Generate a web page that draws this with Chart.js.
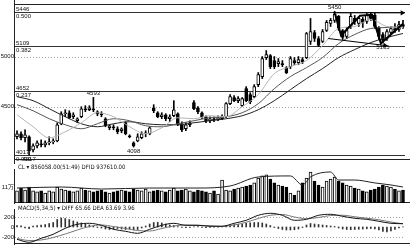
<!DOCTYPE html>
<html>
<head>
<meta charset="utf-8">
<script src="https://cdn.jsdelivr.net/npm/chart.js@4.4.0/dist/chart.umd.min.js"></script>
<style>
html, body { margin: 0; padding: 0; background: #fff; }
#wrap { position: relative; width: 410px; height: 245px; overflow: hidden; }
canvas { position: absolute; left: 0; }
.hd { position: absolute; left: 18px; font: 6px "DejaVu Sans Condensed", "Liberation Sans Narrow", Arial, sans-serif; color: #111; white-space: nowrap; line-height: 6px; }
</style>
</head>
<body>
<div id="wrap">
  <canvas id="main" width="410" height="164" style="top:0"></canvas>
  <div class="hd" style="top:164px">CL ▾ 856058.00(51:49) DFID 937610.00</div>
  <canvas id="vol" width="410" height="35" style="top:169px"></canvas>
  <div class="hd" style="top:205px">MACD(5,34,5) ▾ DIFF 65.66 DEA 63.69 3.96</div>
  <canvas id="macd" width="410" height="36" style="top:209px"></canvas>
</div>
<script>
// daily candles
const opens  = [4200,4230,4190,4200,4070,4110,4130,4120,4140,4150, 4160,4330,4430,4440,4400,4360,4400,4480,4470,4480,
                4450,4430,4380,4290,4300,4280,4260,4340,4210,4140, 4160,4190,4230,4230,4490,4440,4400,4420,4380,4410,
                4430,4330,4280,4320,4540,4490,4440,4400,4360,4380, 4370,4380,4400,4530,4590,4560,4510,4680,4620,4600,
                4720,4800,4990,5010,4960,4930,4930,4890,4900,4960, 4940,4970,4990,5150,5240,5180,5150,5260,5330,5360,
                5400,5260,5200,5300,5380,5330,5370,5350,5400,5410, 5290,5220,5180,5240,5280,5270,5320];
const closes = [4230,4190,4220,4060,4110,4140,4120,4140,4150,4160, 4320,4430,4440,4390,4420,4380,4480,4470,4490,4470,
                4430,4420,4310,4310,4290,4250,4280,4230,4200,4110, 4200,4230,4240,4290,4460,4400,4420,4380,4400,4470,
                4330,4270,4320,4340,4480,4450,4400,4360,4380,4370, 4390,4400,4530,4600,4560,4580,4580,4560,4550,4700,
                4820,4980,5020,4900,4900,4950,4920,4840,4980,4940, 4970,4950,5230,5250,5180,5110,5250,5340,5360,5420,
                5280,5190,5260,5400,5350,5380,5340,5410,5380,5300, 5200,5160,5250,5280,5260,5320,5300];
const highs  = [4260,4250,4270,4210,4130,4160,4170,4160,4200,4180, 4340,4450,4470,4460,4440,4390,4500,4510,4510,4593,
                4460,4450,4390,4320,4320,4300,4290,4350,4220,4150, 4230,4250,4260,4300,4520,4450,4440,4430,4420,4560,
                4440,4350,4340,4360,4560,4500,4450,4410,4400,4400, 4410,4420,4540,4620,4610,4600,4590,4700,4640,4720,
                4840,5000,5060,5020,5000,4980,4960,4900,5000,4990, 5000,4990,5240,5380,5260,5200,5270,5360,5380,5450,
                5410,5270,5290,5430,5410,5400,5390,5430,5440,5430, 5300,5240,5270,5300,5330,5350,5360];
const lows   = [4180,4170,4150,4017,4050,4090,4100,4100,4120,4130, 4150,4320,4400,4380,4380,4340,4390,4450,4460,4450,
                4410,4400,4300,4270,4270,4230,4240,4220,4190,4098, 4150,4180,4200,4220,4440,4390,4380,4360,4350,4400,
                4310,4250,4260,4300,4470,4430,4380,4340,4340,4350, 4360,4370,4390,4520,4550,4540,4500,4550,4530,4590,
                4700,4780,4970,4880,4880,4900,4900,4830,4880,4920, 4920,4930,4980,5120,5150,5100,5140,5250,5300,5340,
                5260,5170,5180,5280,5320,5300,5290,5330,5360,5280, 5170,5135,5160,5220,5240,5250,5280];

// moving averages, sampled every 4 days
const maIdx = [0,4,8,12,16,20,24,28,32,36,40,44,48,52,56,60,64,68,72,76,80,84,88,92,96];
const ma1 = [4420,4300,4190,4250,4340,4440,4400,4300,4230,4290,4390,4380,4410,4400,4500,4620,4830,4900,4960,5110,5280,5300,5370,5300,5290];
const ma2 = [4520,4460,4380,4320,4280,4330,4380,4360,4310,4300,4330,4360,4390,4400,4440,4530,4680,4800,4890,4990,5130,5220,5280,5290,5300];
const ma3 = [4600,4560,4480,4400,4330,4300,4330,4350,4330,4320,4320,4340,4360,4380,4410,4470,4560,4670,4780,4880,4990,5070,5140,5190,5230];

// fibonacci levels and marked extremes
const fibPrices = [5446, 5109, 4652, 4017];
const fibRatios = ['0.500', '0.382', '0.237', '0.000'];
const markIdx  = [79, 19, 29, 91, 3];
const markText = ['5450', '4593', '4098', '5135', '4017'];
const markHigh = [true, true, false, false, false];

// drawn pattern lines (day index, price)
const arrowTop = [{x: 78.6, y: 5436}, {x: 95.8, y: 5436}];
const arrowLow = [{x: 77.4, y: 5180}, {x: 91.5, y: 5111}];
const zigzag   = [{x: 79.1, y: 5426}, {x: 80.6, y: 5210}, {x: 85.3, y: 5407}, {x: 88.3, y: 5416}, {x: 90.5, y: 5131}, {x: 96, y: 5328}];

// volume (万)
const volumes = [8.3,10.3,8.9,11.0,8.3,7.6,8.3,6.9,8.3,7.6, 11.0,9.6,8.9,8.3,7.6,8.3,10.3,8.9,8.3,7.6,
                 8.3,8.9,7.6,6.9,7.6,8.3,8.9,8.3,7.6,9.6, 8.9,8.3,9.6,7.6,8.3,8.9,8.3,7.6,8.9,10.3,
                 8.3,8.9,9.6,8.3,7.6,8.9,8.3,7.6,6.9,8.3, 6.2,15.8,8.9,8.3,9.6,10.3,11.0,11.7,12.4,13.8,
                 17.2,18.6,19.3,16.5,13.8,12.4,11.7,11.0,6.9,5.5, 8.3,13.8,17.2,21.3,15.1,12.4,11.0,15.1,16.5,17.9,
                 15.1,13.8,12.4,11.7,10.3,9.6,8.3,7.6,8.9,9.6, 11.0,12.4,11.7,11.0,9.6,8.3,8.9];
const volMaIdx = [0,11,21,33,45,53,60,68,71,73,78,80,84,89,93,96];
const volMa    = [10.3,11.0,9.6,10.3,10.3,11.7,17.9,18.6,12.4,17.9,21.3,15.8,15.8,13.8,12.4,11.0];

// MACD
const macdIdx = [0,3,6,9,12,15,18,21,24,27,30,33,36,39,42,45,48,51,54,57,60,63,66,69,72,75,78,81,84,87,90,93,96];
const diff = [-246,-306,-226,-146,-26,54,74,34,-46,-86,-126,-46,34,74,34,34,14,14,74,134,234,274,234,134,154,234,254,214,174,154,114,74,66];
const dea  = [-230,-270,-260,-210,-140,-60,10,40,10,-30,-70,-80,-30,20,40,35,25,15,40,95,170,235,250,200,165,190,230,235,205,175,145,100,64];
const macdHist = [30,25,-20,-35,20,30,40,50,70,90, 150,180,170,150,120,100,80,60,40,20,
                  -10,-20,-40,-50,-40,-30,-40,-50,-40,-60, -50,-20,20,60,90,95,80,60,40,30,
                  10,-10,-15,-10,5,10,-10,-15,-10,-5, -5,10,30,40,50,55,60,75,85,90,
                  90,80,60,30,-10,-30,-50,-60,-60,-55, -40,-10,40,70,60,50,40,30,20,10,
                  -20,-40,-50,-55,-50,-45,-40,-35,-30,-40, -60,-90,-100,-80,-50,-20,4];

const days = opens.map((_, i) => i);
const upColor = days.map(i => closes[i] >= opens[i] ? '#fff' : '#000');
const pts = (xs, ys) => xs.map((x, k) => ({x: x, y: ys[k]}));

Chart.defaults.font.family = 'Arial, "Liberation Sans", sans-serif';
Chart.defaults.font.size = 6;

const xScale = {type: 'linear', min: -0.5, max: 96.5, offset: false, display: false};

function framePlugin(tickVals, tickText, dotted, borders) {
    return {
        id: 'frame',
        beforeDatasetsDraw(chart) {
            const {ctx, chartArea: a, scales: {y}} = chart;
            ctx.save();
            ctx.lineWidth = 1;
            ctx.strokeStyle = '#a0a0a0';
            ctx.setLineDash([1, 2]);
            dotted.forEach(v => {
                const py = Math.round(y.getPixelForValue(v)) + 0.5;
                ctx.beginPath(); ctx.moveTo(a.left, py); ctx.lineTo(a.right, py); ctx.stroke();
            });
            ctx.setLineDash([]);
            ctx.strokeStyle = '#222';
            ctx.beginPath(); ctx.moveTo(a.left - 0.5, 0); ctx.lineTo(a.left - 0.5, chart.height); ctx.stroke();
            borders.forEach(b => {
                const py = Math.round(a[b]) + (b === 'top' ? 0.5 : -0.5);
                ctx.beginPath(); ctx.moveTo(a.left, py); ctx.lineTo(chart.width, py); ctx.stroke();
            });
            ctx.fillStyle = '#111';
            ctx.font = '6px Arial, "Liberation Sans", sans-serif';
            ctx.textAlign = 'right';
            ctx.textBaseline = 'middle';
            tickVals.forEach((v, k) => ctx.fillText(tickText[k], a.left - 1, y.getPixelForValue(v)));
            ctx.restore();
        }
    };
}

const fibPlugin = {
    id: 'fib',
    beforeDatasetsDraw(chart) {
        const {ctx, chartArea: a, scales: {y}} = chart;
        ctx.save();
        ctx.strokeStyle = '#333';
        ctx.lineWidth = 1;
        fibPrices.forEach(p => {
            const py = Math.round(y.getPixelForValue(p)) + 0.5;
            ctx.beginPath(); ctx.moveTo(a.left, py); ctx.lineTo(a.right, py); ctx.stroke();
        });
        ctx.restore();
    },
    afterDatasetsDraw(chart) {
        const {ctx, chartArea: a, scales: {x, y}} = chart;
        ctx.save();
        ctx.fillStyle = '#111';
        ctx.font = '6px Arial, "Liberation Sans", sans-serif';
        fibPrices.forEach((p, k) => {
            const py = Math.round(y.getPixelForValue(p));
            ctx.textAlign = 'left';
            ctx.textBaseline = 'bottom';
            ctx.fillText(String(p), a.left + 1, py);
            ctx.textBaseline = 'top';
            ctx.fillText(fibRatios[k], a.left + 1, py + 1);
        });
        ctx.textAlign = 'center';
        markIdx.forEach((i, k) => {
            const px = x.getPixelForValue(i);
            if (markHigh[k]) {
                ctx.textBaseline = 'bottom';
                ctx.fillText(markText[k], px, y.getPixelForValue(highs[i]) - 1);
            } else {
                ctx.textBaseline = 'top';
                ctx.fillText(markText[k], px, y.getPixelForValue(lows[i]) + 1);
            }
        });
        ctx.restore();
    }
};

const lineDs = (data, color, width) => ({
    type: 'line', data: data, borderColor: color, borderWidth: width,
    pointRadius: 0, cubicInterpolationMode: 'monotone', fill: false
});

new Chart(document.getElementById('main'), {
    type: 'bar',
    data: {
        datasets: [
            Object.assign(lineDs(pts(maIdx, ma1), '#b4b4b4', 1), {order: 3}),
            Object.assign(lineDs(pts(maIdx, ma2), '#555', 1), {order: 3}),
            Object.assign(lineDs(pts(maIdx, ma3), '#222', 1), {order: 3}),
            {
                data: days.map(i => ({x: i, y: [lows[i], highs[i]]})),
                backgroundColor: '#000', barThickness: 1, grouped: false, order: 6
            },
            {
                data: days.map(i => ({x: i, y: [opens[i], closes[i]]})),
                backgroundColor: upColor, borderColor: '#000', borderWidth: 1,
                borderSkipped: false, barThickness: 3, grouped: false, order: 5
            },
            Object.assign(lineDs(zigzag, '#000', 2), {cubicInterpolationMode: 'default', tension: 0, order: 1}),
            Object.assign(lineDs(arrowTop, '#000', 1), {
                order: 0, pointRadius: [0, 3], pointStyle: 'triangle', pointRotation: 90,
                pointBackgroundColor: '#000', pointBorderColor: '#000', pointBorderWidth: 0
            }),
            Object.assign(lineDs(arrowLow, '#000', 1), {
                order: 0, pointRadius: [0, 3], pointStyle: 'triangle', pointRotation: 97,
                pointBackgroundColor: '#000', pointBorderColor: '#000', pointBorderWidth: 0
            })
        ]
    },
    options: {
        responsive: false, animation: false, events: [],
        layout: {padding: {left: 15, right: 5, top: 3, bottom: 1}},
        plugins: {legend: {display: false}, tooltip: {enabled: false}},
        scales: {
            x: xScale,
            y: {min: 3968.6, max: 5524, beginAtZero: false, display: false}
        }
    },
    plugins: [framePlugin([4500, 5000], ['4500', '5000'], [4500, 5000], ['top', 'bottom']), fibPlugin]
});

new Chart(document.getElementById('vol'), {
    type: 'bar',
    data: {
        datasets: [
            Object.assign(lineDs(pts(volMaIdx, volMa), '#222', 1), {order: 0}),
            {
                data: days.map(i => ({x: i, y: volumes[i]})),
                backgroundColor: upColor, borderColor: '#000', borderWidth: 1,
                borderSkipped: false, barThickness: 3, order: 1
            }
        ]
    },
    options: {
        responsive: false, animation: false, events: [],
        layout: {padding: {left: 15, right: 5, top: 2, bottom: 1}},
        plugins: {legend: {display: false}, tooltip: {enabled: false}},
        scales: {
            x: xScale,
            y: {min: 0, max: 22, display: false}
        }
    },
    plugins: [framePlugin([11], ['11万'], [], ['bottom'])]
});

new Chart(document.getElementById('macd'), {
    type: 'bar',
    data: {
        datasets: [
            Object.assign(lineDs(pts(macdIdx, diff), '#111', 1), {order: 0}),
            Object.assign(lineDs(pts(macdIdx, dea), '#777', 1), {order: 0}),
            {
                data: days.map(i => ({x: i, y: macdHist[i]})),
                backgroundColor: '#333', barThickness: 1, order: 1
            }
        ]
    },
    options: {
        responsive: false, animation: false, events: [],
        layout: {padding: {left: 15, right: 5, top: 1, bottom: 1}},
        plugins: {legend: {display: false}, tooltip: {enabled: false}},
        scales: {
            x: xScale,
            y: {min: -340, max: 340, display: false}
        }
    },
    plugins: [framePlugin([-200, 0, 200], ['-200', '0', '200'], [-200, 200], ['bottom'])]
});
</script>
</body>
</html>
